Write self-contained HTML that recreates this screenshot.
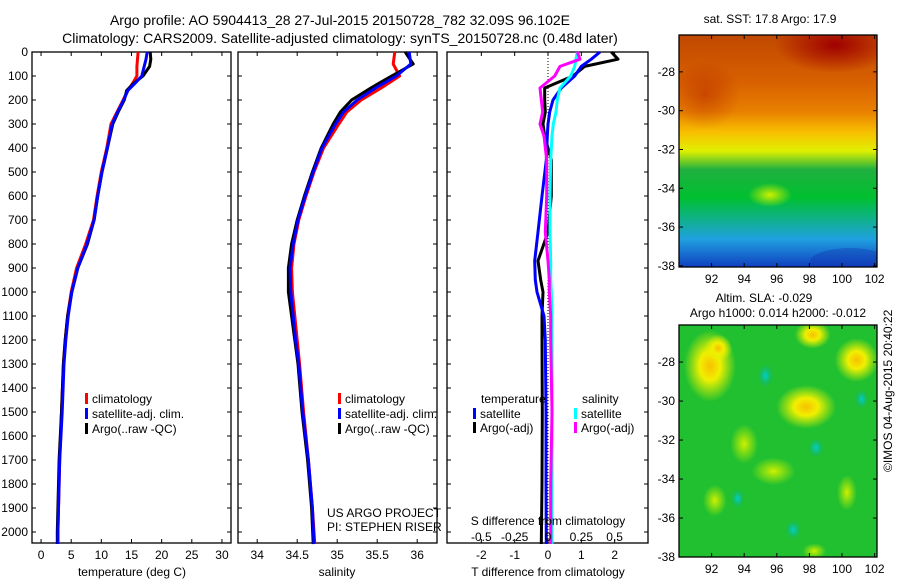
<!DOCTYPE html>
<html><head><meta charset="utf-8"><style>
body{margin:0;background:#fff;width:900px;height:580px;overflow:hidden}
svg{font-family:"Liberation Sans",sans-serif;}
</style></head><body>
<svg id="s" width="900" height="580" xmlns="http://www.w3.org/2000/svg">
<defs>
<linearGradient id="sstg" x1="0" y1="0" x2="0" y2="1">
<stop offset="0" stop-color="#c04800"/><stop offset="0.2" stop-color="#d86000"/><stop offset="0.33" stop-color="#e88000"/>
<stop offset="0.42" stop-color="#f8c000"/><stop offset="0.5" stop-color="#e0f000"/><stop offset="0.58" stop-color="#20b040"/>
<stop offset="0.7" stop-color="#00c030"/><stop offset="0.8" stop-color="#10b090"/><stop offset="0.88" stop-color="#20a0e0"/><stop offset="1" stop-color="#1040c0"/>
</linearGradient>
<radialGradient id="darkred"><stop offset="0" stop-color="#a00000"/><stop offset="1" stop-color="#a00000" stop-opacity="0"/></radialGradient>
<radialGradient id="yel"><stop offset="0" stop-color="#f8c000"/><stop offset="0.4" stop-color="#f0f000"/><stop offset="1" stop-color="#e0f000" stop-opacity="0"/></radialGradient>
<radialGradient id="yg"><stop offset="0" stop-color="#d0f000"/><stop offset="1" stop-color="#c0f000" stop-opacity="0"/></radialGradient>
<radialGradient id="cy"><stop offset="0" stop-color="#00d0d0"/><stop offset="1" stop-color="#10b080" stop-opacity="0"/></radialGradient>
<clipPath id="clipTop"><rect x="679" y="35" width="198" height="232"/></clipPath>
<clipPath id="clipBot"><rect x="679" y="325" width="198" height="232"/></clipPath>
</defs>
</svg>
<script>
// ===== data =====
const depthTicks=[0,100,200,300,400,500,600,700,800,900,1000,1100,1200,1300,1400,1500,1600,1700,1800,1900,2000];
const tTicks=[0,5,10,15,20,25,30];
const sTicks=[34,34.5,35,35.5,36];
const tdTicks=[-2,-1,0,1,2];
const sdTicks=[-0.5,-0.25,0,0.25,0.5];
const sdTickLabels=["-0.5","-0.25","0","0.25","0.5"];
const lonTicks=[92,94,96,98,100,102];
const latTicks=[-28,-30,-32,-34,-36,-38];

const tDepth=[0,30,60,100,130,160,200,250,300,400,500,600,700,800,900,1000,1100,1200,1300,1500,1700,2000,2050];
const tClim=[16.1,16.0,15.9,15.9,15.2,14.4,13.6,12.6,11.6,10.9,10.0,9.3,8.7,7.4,5.9,5.0,4.4,4.0,3.7,3.4,3.1,2.8,2.8];
const tSat=[17.6,17.4,17.1,16.7,15.6,14.4,13.7,12.7,11.8,11.0,10.1,9.4,8.8,7.6,6.1,5.1,4.5,4.1,3.8,3.5,3.1,2.8,2.8];
const tArgo=[18.1,18.2,18.0,16.9,15.4,14.2,13.8,12.8,11.9,11.0,10.1,9.4,8.8,7.7,6.1,5.1,4.4,4.0,3.7,3.4,3.0,2.7,2.7];

const sDepth=[0,50,100,150,200,250,300,400,500,600,700,800,900,1000,1100,1200,1300,1500,1700,1900,2050];
const sClim=[35.72,35.70,35.78,35.55,35.30,35.12,35.02,34.83,34.71,34.61,34.52,34.46,34.43,34.44,34.47,34.50,34.53,34.58,34.64,34.69,34.72];
const sSat=[35.90,35.92,35.74,35.48,35.25,35.08,34.98,34.81,34.70,34.60,34.51,34.45,34.41,34.42,34.45,34.48,34.52,34.57,34.64,34.69,34.71];
const sArgo=[35.85,35.95,35.68,35.42,35.18,35.04,34.95,34.80,34.69,34.59,34.50,34.43,34.39,34.39,34.43,34.47,34.51,34.56,34.63,34.68,34.70];

const dDepth=[0,30,60,100,150,200,250,300,350,450,600,750,870,950,1000,1100,1200,1500,1800,2050];
const dtSat=[1.56,1.3,1.0,0.8,0.4,0.15,0.05,0.0,-0.02,-0.05,-0.18,-0.3,-0.4,-0.38,-0.33,-0.12,-0.08,-0.06,-0.06,-0.05];
const dtArgo=[1.9,2.1,1.1,0.75,-0.1,-0.1,-0.08,-0.15,-0.1,0.1,0.1,0.0,-0.3,-0.22,-0.15,-0.18,-0.18,-0.17,-0.18,-0.2];
const dsSat=[0.22,0.21,0.2,0.17,0.09,0.07,0.06,0.04,0.03,0.02,0.015,0.015,0.02,0.02,0.025,0.03,0.03,0.03,0.03,0.03];
const dsArgo=[0.22,0.24,0.09,0.05,-0.06,-0.05,-0.04,-0.06,-0.03,-0.01,-0.01,-0.02,0.0,0.01,0.01,0.02,0.02,0.03,0.02,0.02];

// ===== helpers =====
const S=document.getElementById('s');const NS='http://www.w3.org/2000/svg';
function el(t,a,txt,parent){const e=document.createElementNS(NS,t);for(const k in a)e.setAttribute(k,a[k]);if(txt!==undefined)e.textContent=txt;(parent||S).appendChild(e);return e;}
const Y0=52,Y1=543;const yD=d=>Y0+d*0.24;
function frame(x0,x1,y0,y1,name){const r=el('rect',{x:x0,y:y0,width:x1-x0,height:y1-y0,fill:'none',stroke:'#000','stroke-width':1.3});}
function line(xs,ys,col,name,w){const p=el('polyline',{points:xs.map((x,i)=>x.toFixed(1)+','+ys[i].toFixed(1)).join(' '),fill:'none',stroke:col,'stroke-width':w||3,'stroke-linejoin':'round'});}
function txt(x,y,s,opt,name){const t=el('text',Object.assign({x:x,y:y,'font-size':12,fill:'#000'},opt||{}),s);return t;}
function yticks(x0,x1){depthTicks.forEach(d=>{const y=yD(d);el('line',{x1:x0,x2:x0+4,y1:y,y2:y,stroke:'#000'});el('line',{x1:x1-4,x2:x1,y1:y,y2:y,stroke:'#000'});});}
function legendItem(x,y,col,label,name){const r=el('rect',{x:x,y:y-10,width:3,height:11,fill:col});txt(x+7,y,label,{},name);}

// titles
txt(340,25,'Argo profile: AO 5904413_28 27-Jul-2015 20150728_782 32.09S 96.102E',{'font-size':14,'text-anchor':'middle'},'title-line-1');
txt(340,43,'Climatology: CARS2009. Satellite-adjusted climatology: synTS_20150728.nc (0.48d later)',{'font-size':14,'text-anchor':'middle'},'title-line-2');

// ===== temperature panel =====
const tx=v=>32+(v+1.5)*(199/33);
frame(32,231,Y0,Y1,'temperature-axes');yticks(32,231);
depthTicks.forEach(d=>txt(28,yD(d)+4,String(d),{'text-anchor':'end'},'depth-tick-label'));
tTicks.forEach(v=>{el('line',{x1:tx(v),x2:tx(v),y1:Y0,y2:Y0+4,stroke:'#000'});el('line',{x1:tx(v),x2:tx(v),y1:Y1-4,y2:Y1,stroke:'#000'});txt(tx(v),559,String(v),{'text-anchor':'middle'},'temperature-tick-label');});
txt(132,576,'temperature (deg C)',{'text-anchor':'middle'},'temperature-axis-title');
line(tClim.map(tx),tDepth.map(yD),'#f00','temperature-climatology-line');
line(tArgo.map(tx),tDepth.map(yD),'#000','temperature-argo-line');
line(tSat.map(tx),tDepth.map(yD),'#00f','temperature-satellite-line');
legendItem(85,403,'#f00','climatology','legend-climatology');
legendItem(85,418,'#00f','satellite-adj. clim.','legend-satellite-adj');
legendItem(85,433,'#000','Argo(..raw -QC)','legend-argo');

// ===== salinity panel =====
const sx=v=>238+(v-33.76)*80;
frame(238,437,Y0,Y1,'salinity-axes');yticks(238,437);
sTicks.forEach(v=>{el('line',{x1:sx(v),x2:sx(v),y1:Y0,y2:Y0+4,stroke:'#000'});el('line',{x1:sx(v),x2:sx(v),y1:Y1-4,y2:Y1,stroke:'#000'});txt(sx(v),559,String(v),{'text-anchor':'middle'},'salinity-tick-label');});
txt(337,576,'salinity',{'text-anchor':'middle'},'salinity-axis-title');
line(sClim.map(sx),sDepth.map(yD),'#f00','salinity-climatology-line');
line(sArgo.map(sx),sDepth.map(yD),'#000','salinity-argo-line');
line(sSat.map(sx),sDepth.map(yD),'#00f','salinity-satellite-line');
legendItem(338,403,'#f00','climatology','legend-climatology-2');
legendItem(338,418,'#00f','satellite-adj. clim.','legend-satellite-adj-2');
legendItem(338,433,'#000','Argo(..raw -QC)','legend-argo-2');
txt(327,517,'US ARGO PROJECT',{},'project-label');
txt(327,531,'PI: STEPHEN RISER',{},'pi-label');

// ===== difference panel =====
const dx=v=>548+v*33.33;const dsx=v=>548+v*133.3;
frame(447,648,Y0,Y1,'difference-axes');yticks(447,648);
el('line',{x1:548,x2:548,y1:Y0,y2:Y1,stroke:'#000','stroke-dasharray':'1,2'});
tdTicks.forEach(v=>{el('line',{x1:dx(v),x2:dx(v),y1:Y0,y2:Y0+4,stroke:'#000'});el('line',{x1:dx(v),x2:dx(v),y1:Y1-4,y2:Y1,stroke:'#000'});txt(dx(v),559,String(v),{'text-anchor':'middle'},'t-diff-tick-label');});
txt(548,576,'T difference from climatology',{'text-anchor':'middle'},'t-diff-axis-title');
line(dtArgo.map(dx),dDepth.map(yD),'#000','t-diff-argo-line');
line(dtSat.map(dx),dDepth.map(yD),'#00f','t-diff-satellite-line');
line(dsSat.map(dsx),dDepth.map(yD),'#0ff','s-diff-satellite-line');
line(dsArgo.map(dsx),dDepth.map(yD),'#f0f','s-diff-argo-line');
txt(548,525,'S difference from climatology',{'text-anchor':'middle'},'s-diff-axis-title');
sdTicks.forEach((v,i)=>txt(dsx(v),541,sdTickLabels[i],{'text-anchor':'middle'},'s-diff-tick-label'));
txt(481,403,'temperature',{},'legend-temperature-heading');
txt(582,403,'salinity',{},'legend-salinity-heading');
legendItem(473,418,'#00f','satellite','legend-t-satellite');
legendItem(473,432,'#000','Argo(-adj)','legend-t-argo');
legendItem(574,418,'#0ff','satellite','legend-s-satellite');
legendItem(574,432,'#f0f','Argo(-adj)','legend-s-argo');

// ===== maps =====
const mx=lon=>679+(lon-90)*16.3;
function mapAxes(y0,y1,latTop,ppd,name){
  const my=lat=>y0+(latTop-lat)*ppd;
  frame(679,877,y0,y1,name);
  lonTicks.forEach(v=>{el('line',{x1:mx(v),x2:mx(v),y1:y0,y2:y0+4,stroke:'#000'});el('line',{x1:mx(v),x2:mx(v),y1:y1-4,y2:y1,stroke:'#000'});txt(mx(v),y1+16,String(v),{'text-anchor':'middle'},'lon-tick-label');});
  latTicks.forEach(v=>{el('line',{x1:679,x2:683,y1:my(v),y2:my(v),stroke:'#000'});el('line',{x1:873,x2:877,y1:my(v),y2:my(v),stroke:'#000'});txt(675,my(v)+4,String(v),{'text-anchor':'end'},'lat-tick-label');});
}
// SST map
const gTop=el('g',{'clip-path':'url(#clipTop)'});
let r=el('rect',{x:679,y:35,width:198,height:232,fill:'url(#sstg)'},undefined,gTop);
el('ellipse',{cx:835,cy:45,rx:60,ry:28,fill:'url(#darkred)'},undefined,gTop);
el('ellipse',{cx:705,cy:95,rx:35,ry:35,fill:'url(#darkred)','opacity':0.35},undefined,gTop);
el('ellipse',{cx:770,cy:195,rx:22,ry:12,fill:'url(#yg)'},undefined,gTop);
el('ellipse',{cx:850,cy:262,rx:40,ry:14,fill:'#1030b0','opacity':0.35},undefined,gTop);
mapAxes(35,267,-26.1,19.4,'sst-map-axes');
txt(770,23,'sat. SST: 17.8 Argo: 17.9',{'text-anchor':'middle'},'sst-map-title');
txt(764,302,'Altim. SLA: -0.029',{'text-anchor':'middle'},'sla-map-title');
txt(778,317,'Argo h1000: 0.014 h2000: -0.012',{'text-anchor':'middle'},'argo-height-label');
// SLA map
const blobs=[[91.9,-28.2,26,36,'yel'],[92.4,-27.3,14,14,'yel'],[97.8,-30.3,30,22,'yel'],[100.9,-27.9,22,22,'yel'],[98.2,-26.6,18,14,'yel'],[94,-32.2,14,20,'yg'],[95.8,-33.6,22,14,'yg'],[92.2,-35.1,12,16,'yg'],[100.3,-34.7,10,18,'yg'],[98.3,-37.7,12,8,'yg'],[95.3,-28.7,8,12,'cy'],[97,-36.6,8,10,'cy'],[93.6,-35,7,10,'cy'],[101.2,-29.9,7,10,'cy'],[98.4,-32.4,8,10,'cy']];
const gBot=el('g',{'clip-path':'url(#clipBot)'});
r=el('rect',{x:679,y:325,width:198,height:232,fill:'#20c030'},undefined,gBot);
blobs.forEach(b=>el('ellipse',{cx:mx(b[0]),cy:325+(-26.1-b[1])*19.5,rx:b[2],ry:b[3],fill:'url(#'+b[4]+')'},undefined,gBot));
mapAxes(325,557,-26.1,19.5,'sla-map-axes');
txt(892,472,'©IMOS 04-Aug-2015 20:40:22',{transform:'rotate(-90 892 472)'},'timestamp-label');
</script>
</body></html>
